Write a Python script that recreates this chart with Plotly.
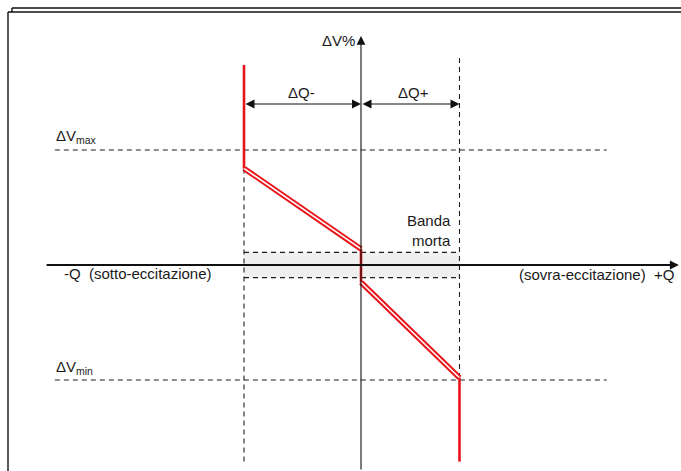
import plotly.graph_objects as go

# ---- data (conceptual units: x = reactive power Q, y = ΔV%) ----
dq_minus = -6.0          # left limit of ΔQ-
dq_plus = 5.05           # right limit of ΔQ+
dv_max = 5.0
dv_min = -5.0
band_half = 0.55         # dead band half-height
# red characteristic
red_vert_left_y = [8.7, 4.2]
red_diag1_x = [dq_minus, 0.0]
red_diag1_y = [4.2, 0.7]
red_mid_y = [0.7, -0.75]
red_diag2_x = [0.0, dq_plus]
red_diag2_y = [-0.75, -4.9]
red_vert_right_y = [-4.9, -8.55]
# extents
x_axis_span = [-16.2, 16.3]
y_axis_span = [-8.96, 9.96]
ref_line_x = [-15.7, 12.6]
left_dash_y = [4.2, -8.55]
right_dash_y = [9.0, -8.55]
dq_arrow_y = 7.0

x_range = [-361 / 19.5, (681 - 361) / 19.5]
y_range = [-206 / 23, 265 / 23]

RED = "#e8141b"
DASH = "#1e1e1e"
FONT = "Liberation Sans, Arial, sans-serif"

fig = go.Figure()

def line(xs, ys, color, width, dash="solid"):
    fig.add_trace(go.Scatter(x=xs, y=ys, mode="lines",
                             line=dict(color=color, width=width, dash=dash),
                             hoverinfo="skip", showlegend=False))

# dead band fill
fig.add_shape(type="rect", xref="x", yref="y", x0=dq_minus, x1=dq_plus,
              y0=-band_half, y1=band_half, fillcolor="#efefef",
              line=dict(width=0), layer="below")

# reference dashed lines
DP = "5px,4px"
line(ref_line_x, [dv_max, dv_max], DASH, 1.1, DP)
line(ref_line_x, [dv_min, dv_min], DASH, 1.1, DP)
line([dq_minus, dq_minus], left_dash_y, DASH, 1.1, DP)
line([dq_plus, dq_plus], right_dash_y, DASH, 1.1, DP)
line([dq_minus, dq_plus], [band_half, band_half], DASH, 1.1, DP)
line([dq_minus, dq_plus], [-band_half, -band_half], DASH, 1.1, DP)

# axes drawn as arrows
fig.add_annotation(x=x_axis_span[1], y=0, ax=x_axis_span[0], ay=0,
                   xref="x", yref="y", axref="x", ayref="y", text="",
                   showarrow=True, arrowhead=2, arrowsize=1.0, arrowwidth=1.8,
                   arrowcolor="#111111", standoff=0)
fig.add_annotation(x=0, y=y_axis_span[1], ax=0, ay=y_axis_span[0],
                   xref="x", yref="y", axref="x", ayref="y", text="",
                   showarrow=True, arrowhead=2, arrowsize=1.6, arrowwidth=1.1,
                   arrowcolor="#111111", standoff=0)

# ΔQ double arrows
for x0, x1 in [(dq_minus, 0.0), (0.0, dq_plus)]:
    fig.add_annotation(x=x1, y=dq_arrow_y, ax=x0, ay=dq_arrow_y,
                       xref="x", yref="y", axref="x", ayref="y", text="",
                       showarrow=True, arrowhead=2, startarrowhead=2,
                       arrowside="end+start", arrowsize=1.5, startarrowsize=1.5,
                       arrowwidth=1.2, arrowcolor="#111111", standoff=0, startstandoff=0)

# red characteristic: double-line diagonals
for xs, ys in [(red_diag1_x, red_diag1_y), (red_diag2_x, red_diag2_y)]:
    line(xs, ys, RED, 5.5)
    line(xs, ys, "white", 1.6)
line([dq_minus, dq_minus], red_vert_left_y, RED, 2.6)
line([0, 0], red_mid_y, RED, 2.6)
line([dq_plus, dq_plus], red_vert_right_y, RED, 2.6)

# texts
def text(x, y, s, xanchor="center", align="center", size=15):
    fig.add_annotation(x=x, y=y, xref="x", yref="y", text=s, showarrow=False,
                       xanchor=xanchor, yanchor="middle", align=align,
                       font=dict(family=FONT, size=size, color="#1a1a1a"))

text(-0.2, 9.74, "ΔV%", xanchor="right")
text(-15.75, 5.6, "ΔV<sub>max</sub>", xanchor="left")
text(-15.75, -4.45, "ΔV<sub>min</sub>", xanchor="left")
text(-3.03, 7.52, "ΔQ-")
text(2.67, 7.52, "ΔQ+")
text(4.7, 1.5, "Banda<br>morta", xanchor="right", align="right")
text(-15.33, -0.38, "-Q  (sotto-eccitazione)", xanchor="left")
text(16.15, -0.42, "(sovra-eccitazione)  +Q", xanchor="right")

# frame decoration
def px_line(x0, y0, x1, y1):
    fig.add_shape(type="line", xref="paper", yref="paper",
                  x0=x0 / 681, x1=x1 / 681, y0=1 - y0 / 471, y1=1 - y1 / 471,
                  line=dict(color="#111111", width=1.4))

px_line(12, 8, 681, 8)
px_line(12, 8, 12, 12)
px_line(8, 12, 681, 12)
px_line(8, 12, 8, 471)

fig.update_layout(
    width=681, height=471,
    margin=dict(l=0, r=0, t=0, b=0),
    paper_bgcolor="white", plot_bgcolor="white",
    xaxis=dict(range=x_range, visible=False, fixedrange=True),
    yaxis=dict(range=y_range, visible=False, fixedrange=True),
    showlegend=False,
)

fig.write_html("out.html", config={"displayModeBar": False},
               post_script="document.body.style.margin='0';document.body.style.overflow='hidden';")
